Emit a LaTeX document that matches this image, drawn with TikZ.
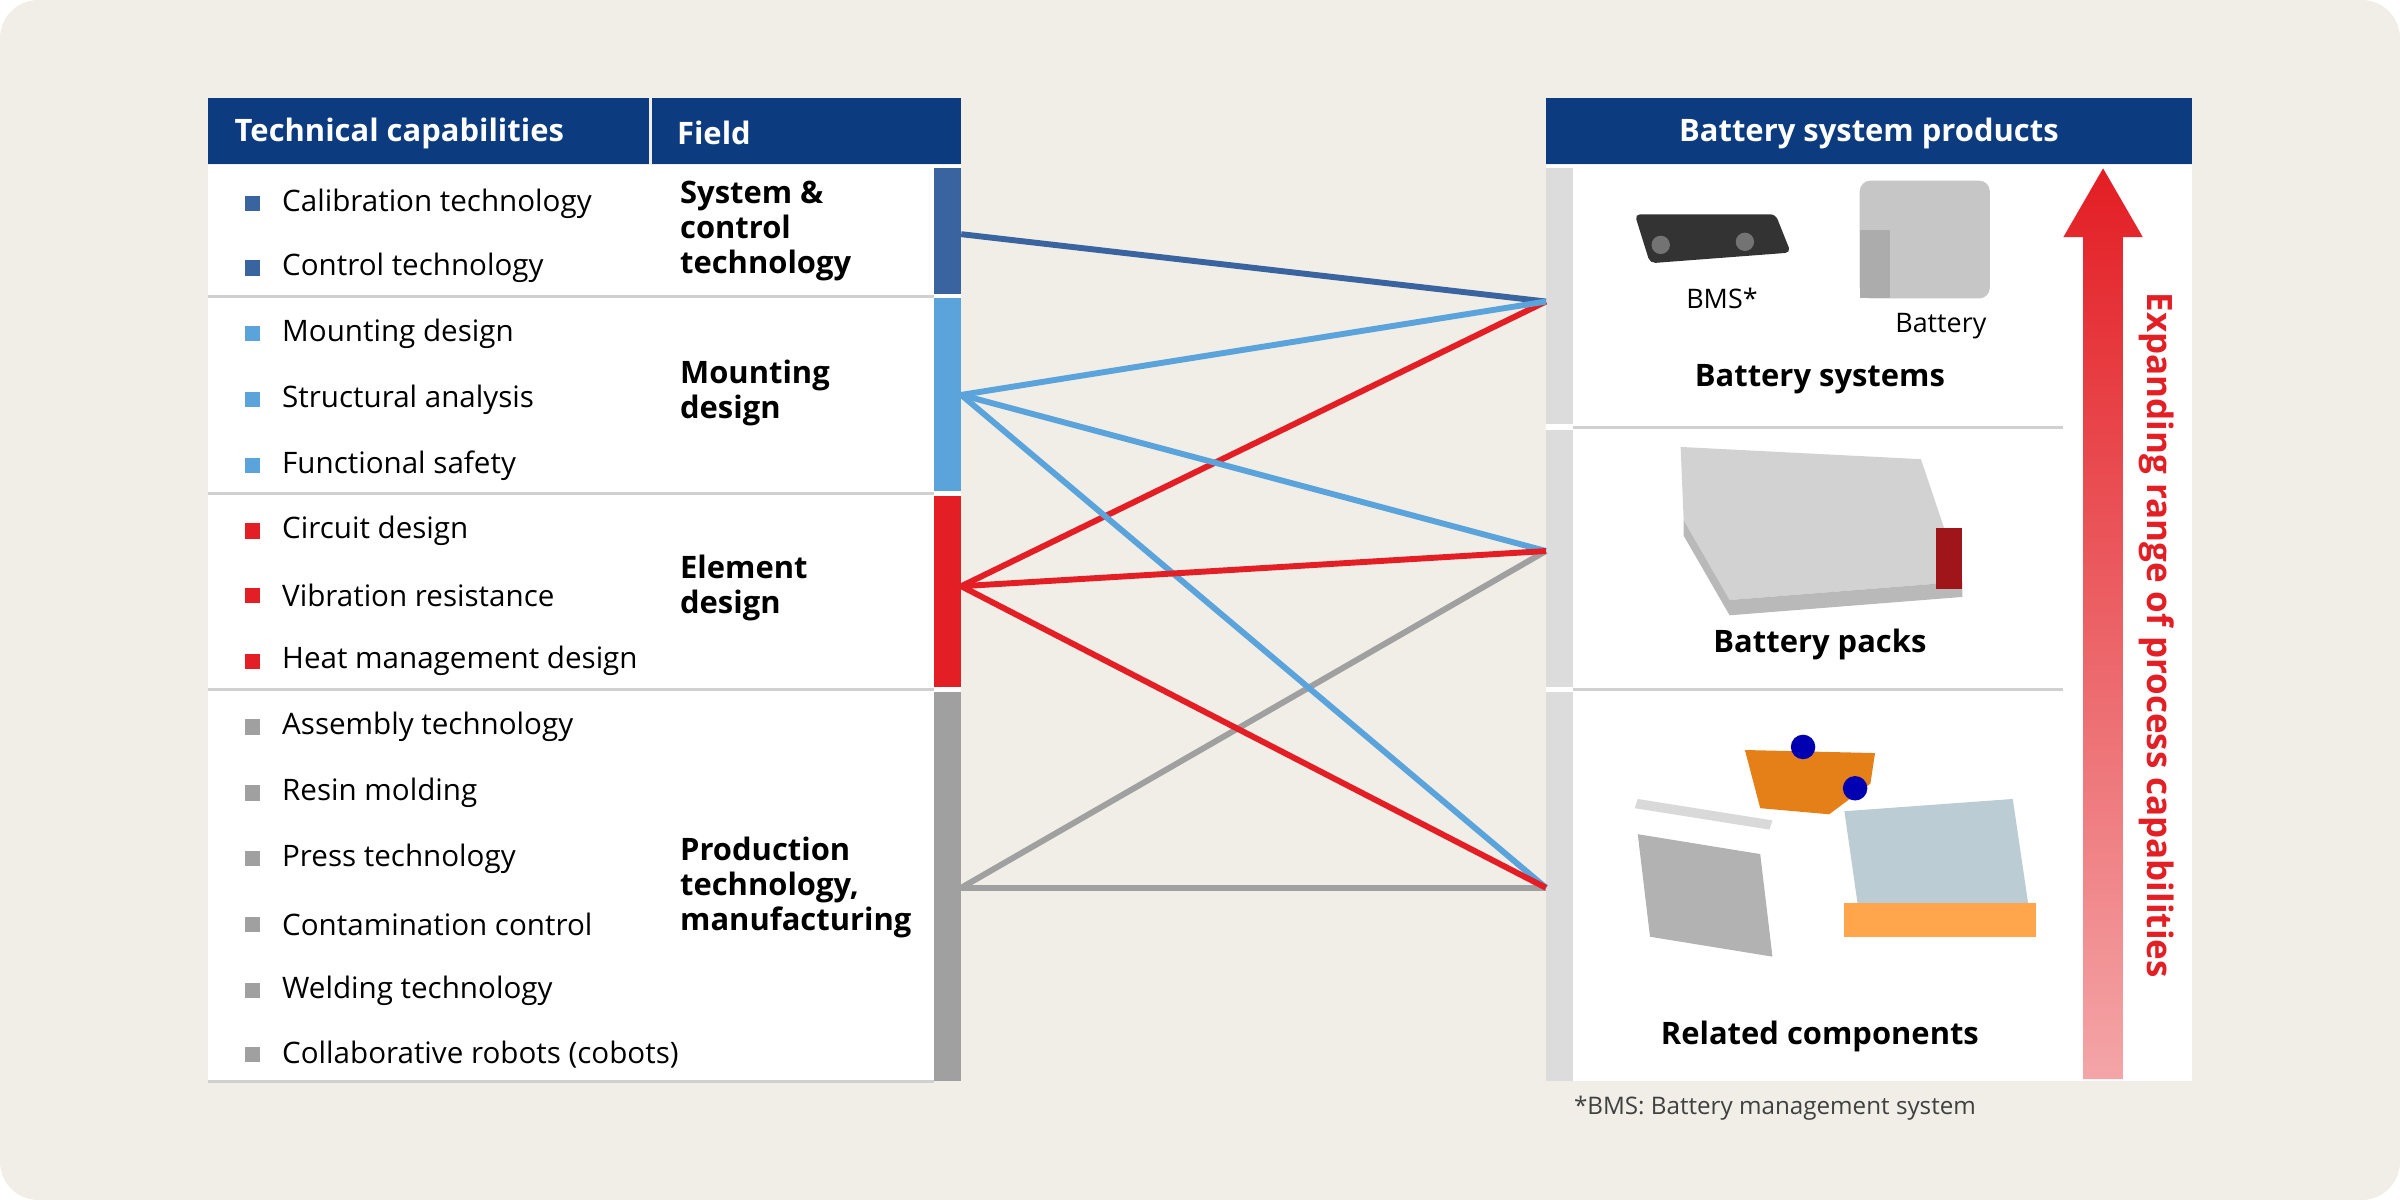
\documentclass[tikz,border=0pt]{standalone}
\usepackage{fontspec}
\setmainfont{Open Sans}
\usetikzlibrary{positioning}
\definecolor{bgcream}{HTML}{F0EEE7}
\definecolor{headblue}{HTML}{0C3B80}
\definecolor{ctrlblue}{HTML}{3A64A0}
\definecolor{mountblue}{HTML}{5BA3DB}
\definecolor{elemred}{HTML}{E31E24}
\definecolor{prodgray}{HTML}{A0A0A0}
\definecolor{bargray}{HTML}{DCDCDC}
\definecolor{linegray}{HTML}{D0D0D0}

\tikzset{
  head/.style={fill=headblue, text=white, font=\bfseries\fontsize{11.5}{13}\selectfont},
  item/.style={anchor=west, font=\fontsize{11}{13}\selectfont, inner sep=0pt},
  field/.style={anchor=west, align=left, font=\bfseries\fontsize{11.5}{13}\selectfont, inner sep=0pt},
  prod/.style={font=\bfseries\fontsize{11.5}{13}\selectfont, inner sep=0pt},
  link/.style={line width=2.2pt}
}

\begin{document}
\begin{tikzpicture}[x=0.02cm, y=-0.02cm]
    \fill[bgcream, rounded corners=0.5cm] (0,0) rectangle (1568,784);
    \useasboundingbox (0,0) rectangle (1568,784);

    % left table
    \fill[white] (136,108) rectangle (628,706);
    \fill[head] (136,64) rectangle (424,107);
    \fill[head] (426,64) rectangle (628,107);
    \node[item, text=white, font=\bfseries\fontsize{11.5}{13}\selectfont] at (153,87) {Technical capabilities};
    \node[item, text=white, font=\bfseries\fontsize{11.5}{13}\selectfont] at (442,87) {Field};
    \fill[ctrlblue] (610,110) rectangle (628,192);
    \fill[mountblue] (610,195) rectangle (628,321);
    \fill[elemred] (610,324) rectangle (628,449);
    \fill[prodgray] (610,452) rectangle (628,706);
    \foreach \y in {193.5,322.5,450.5,706.5}
        \draw[linegray, line width=1pt] (136,\y) -- (610,\y);

    \foreach \y/\c/\t in {133/ctrlblue/Calibration technology, 175/ctrlblue/Control technology,
        218/mountblue/Mounting design, 261/mountblue/Structural analysis, 304/mountblue/Functional safety,
        347/elemred/Circuit design, 389/elemred/Vibration resistance, 432/elemred/Heat management design,
        475/prodgray/Assembly technology, 518/prodgray/Resin molding, 561/prodgray/Press technology,
        604/prodgray/Contamination control, 647/prodgray/Welding technology, 689/prodgray/Collaborative robots (cobots)}
    {
        \fill[\c] (160,\y-5) rectangle (170,\y+5);
        \node[item] at (184,\y) {\t};
    }

    \node[field] (ctrl) at (444,151) {System \&\\control\\technology};
    \node[field] (mount) at (444,257) {Mounting\\design};
    \node[field] (elem) at (444,384) {Element\\design};
    \node[field] (manu) at (444,580) {Production\\technology,\\manufacturing};

    % right panel
    \fill[white] (1010,108) rectangle (1432,706);
    \fill[head] (1010,64) rectangle (1432,107);
    \node[text=white, font=\bfseries\fontsize{11.5}{13}\selectfont] at (1221,87) {Battery system products};
    \fill[bargray] (1010,110) rectangle (1028,277);
    \fill[bargray] (1010,281) rectangle (1028,449);
    \fill[bargray] (1010,452) rectangle (1028,706);
    \draw[linegray, line width=1pt] (1028,279.5) -- (1348,279.5);
    \draw[linegray, line width=1pt] (1028,450.5) -- (1348,450.5);

    % product pictures (rough)
    \fill[black!80, rounded corners=2pt] (1068,140) -- (1160,140) -- (1170,165) -- (1078,172) -- cycle;
    \fill[black!55] (1085,160) circle (6) (1140,158) circle (6);
    \fill[gray!45, rounded corners=4pt] (1215,118) rectangle (1300,195);
    \fill[gray!65] (1215,150) rectangle (1235,195);
    \fill[gray!35] (1098,292) -- (1255,300) -- (1282,380) -- (1130,392) -- (1100,340) -- cycle;
    \fill[gray!55] (1100,340) -- (1130,392) -- (1282,380) -- (1282,390) -- (1130,402) -- (1100,350) -- cycle;
    \fill[elemred!70!black] (1265,345) rectangle (1282,385);
    \fill[gray!60] (1070,545) -- (1150,558) -- (1158,625) -- (1078,612) -- cycle;
    \fill[gray!30] (1070,522) -- (1158,536) -- (1156,542) -- (1068,528) -- cycle;
    \fill[orange!60!brown] (1140,490) -- (1225,492) -- (1222,512) -- (1195,532) -- (1150,528) -- cycle;
    \fill[blue!70!black] (1178,488) circle (8) (1212,515) circle (8);
    \fill[cyan!25!gray!50] (1205,530) -- (1315,522) -- (1325,590) -- (1215,600) -- cycle;
    \fill[orange!70] (1205,590) rectangle (1330,612);

    \node[prod] at (1189,248) {Battery systems};
    \node[prod] at (1189,421) {Battery packs};
    \node[prod] at (1189,677) {Related components};
    \node[font=\fontsize{10}{12}\selectfont] at (1125,195) {BMS*};
    \node[font=\fontsize{10}{12}\selectfont] at (1268,213) {Battery};

    % expanding arrow
    \shade[top color=elemred, bottom color=elemred!40] (1361,705) -- (1361,155) -- (1348,155) -- (1374,110) -- (1400,155) -- (1387,155) -- (1387,705) -- cycle;
    \node[rotate=-90, text=elemred, font=\bfseries\fontsize{13}{15}\selectfont] at (1409,415) {Expanding range of process capabilities};

    \node[anchor=west, inner sep=0pt, font=\fontsize{9}{11}\selectfont, text=black!75] (note) at (1028,724) {*BMS: Battery management system};

    % connectors
    \coordinate (lctrl) at (628,153);
    \coordinate (lmount) at (628,258);
    \coordinate (lelem) at (628,383);
    \coordinate (lmanu) at (628,580);
    \coordinate (rsys) at (1010,197);
    \coordinate (rpack) at (1010,360);
    \coordinate (rcomp) at (1010,580);

    \draw[link, ctrlblue] (lctrl) -- (rsys);
    \draw[link, prodgray] (lmanu) -- (rpack);
    \draw[link, prodgray] (lmanu) -- (rcomp);
    \draw[link, elemred] (lelem) -- (rsys);
    \draw[link, mountblue] (lmount) -- (rcomp);
    \draw[link, mountblue] (lmount) -- (rsys);
    \draw[link, mountblue] (lmount) -- (rpack);
    \draw[link, elemred] (lelem) -- (rpack);
    \draw[link, elemred] (lelem) -- (rcomp);
\end{tikzpicture}
\end{document}
